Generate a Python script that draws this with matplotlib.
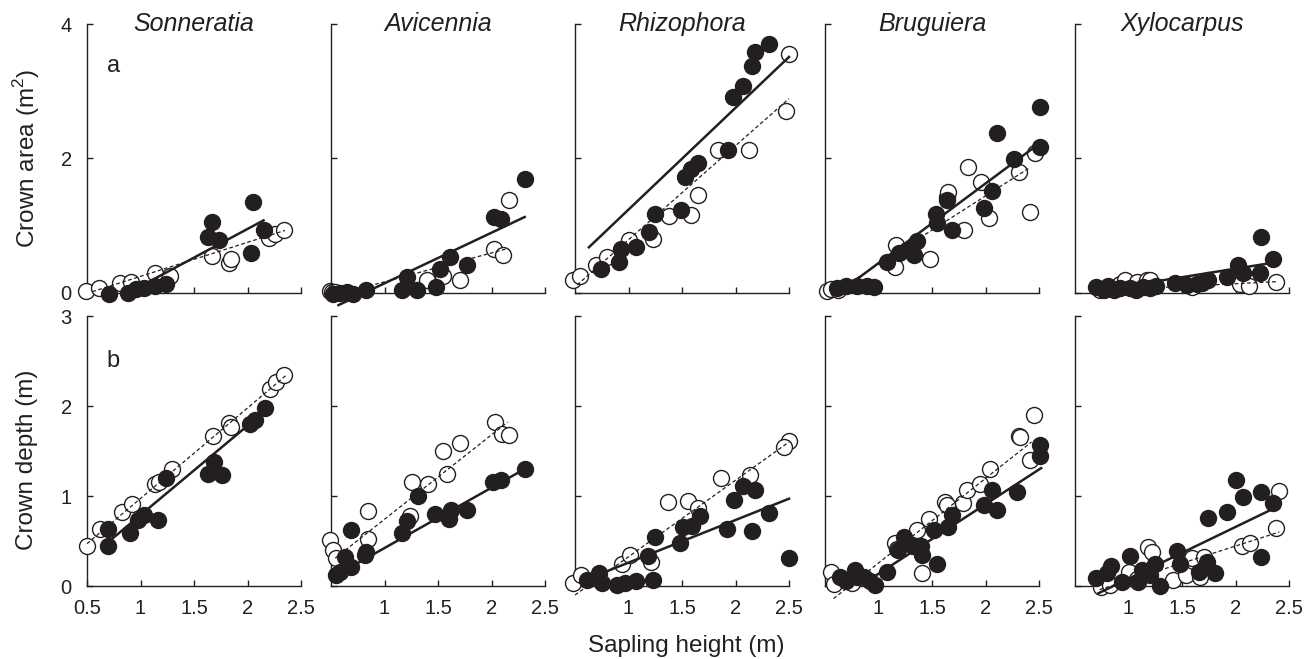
import matplotlib
matplotlib.use("Agg")
import matplotlib.pyplot as plt

plt.rcParams['font.family'] = ['Liberation Sans', 'DejaVu Sans']
plt.rcParams['mathtext.fontset'] = 'custom'
plt.rcParams['mathtext.rm'] = 'Liberation Sans'

species = ["Sonneratia", "Avicennia", "Rhizophora", "Bruguiera", "Xylocarpus"]

# ---------------- Crown area (row a) ----------------
son_area_open_x = [0.49, 0.61, 0.81, 0.91, 1.14, 1.28, 1.67, 1.83, 1.85, 2.20, 2.26, 2.34]
son_area_open_y = [0.03, 0.08, 0.15, 0.17, 0.29, 0.26, 0.55, 0.45, 0.51, 0.82, 0.88, 0.94]
son_area_fill_x = [0.71, 0.88, 0.96, 1.03, 1.14, 1.24, 1.67, 1.63, 1.73, 2.05, 2.03, 2.15]
son_area_fill_y = [-0.01, 0.0, 0.06, 0.08, 0.11, 0.14, 1.06, 0.83, 0.79, 1.36, 0.60, 0.94]
son_area_solid = ([1.00, 2.15], [0.10, 1.08])
son_area_dash = ([0.55, 2.35], [0.02, 0.93])

avi_area_open_x = [0.49, 0.51, 0.54, 1.40, 1.55, 1.71, 2.02, 2.11, 2.16]
avi_area_open_y = [0.03, 0.02, 0.01, 0.19, 0.26, 0.19, 0.66, 0.57, 1.38]
avi_area_fill_x = [0.52, 0.58, 0.65, 0.71, 0.83, 1.16, 1.21, 1.30, 1.48, 1.52, 1.61, 1.77, 2.02, 2.09, 2.31]
avi_area_fill_y = [-0.01, 0.0, 0.01, -0.01, 0.05, 0.05, 0.24, 0.04, 0.09, 0.36, 0.54, 0.42, 1.13, 1.10, 1.69]
avi_area_solid = ([0.57, 2.31], [-0.18, 1.13])
avi_area_dash = ([0.80, 2.15], [0.08, 0.66])

rhi_area_open_x = [0.48, 0.55, 0.70, 0.80, 1.00, 1.23, 1.38, 1.58, 1.65, 1.84, 2.13, 2.50, 2.47]
rhi_area_open_y = [0.20, 0.25, 0.41, 0.54, 0.79, 0.81, 1.14, 1.16, 1.45, 2.12, 2.12, 3.56, 2.71]
rhi_area_fill_x = [0.74, 0.91, 0.93, 1.07, 1.19, 1.25, 1.49, 1.53, 1.58, 1.65, 1.93, 1.98, 2.07, 2.15, 2.18, 2.31]
rhi_area_fill_y = [0.36, 0.46, 0.66, 0.69, 0.91, 1.18, 1.23, 1.73, 1.85, 1.93, 2.13, 2.91, 3.08, 3.37, 3.59, 3.71]
rhi_area_solid = ([0.63, 2.50], [0.68, 3.51])
rhi_area_dash = ([0.52, 2.50], [0.12, 2.89])

bru_area_open_x = [0.52, 0.56, 0.62, 1.15, 1.16, 1.48, 1.64, 1.65, 1.80, 1.84, 1.96, 2.03, 2.31, 2.46, 2.42]
bru_area_open_y = [0.03, 0.06, 0.05, 0.39, 0.71, 0.50, 1.43, 1.50, 0.94, 1.88, 1.65, 1.11, 1.80, 2.08, 1.21]
bru_area_fill_x = [0.61, 0.70, 0.80, 0.89, 0.96, 1.08, 1.19, 1.27, 1.33, 1.36, 1.54, 1.55, 1.69, 1.64,
                   1.99, 2.06, 2.11, 2.27, 2.51, 2.51]
bru_area_fill_y = [0.08, 0.10, 0.11, 0.10, 0.09, 0.46, 0.59, 0.64, 0.56, 0.78, 1.18, 1.04, 0.93, 1.39,
                   1.26, 1.52, 2.38, 1.99, 2.77, 2.17]
bru_area_solid = ([0.65, 2.50], [0.03, 2.22])
bru_area_dash = ([0.60, 2.40], [0.02, 1.85])

xyl_area_open_x = [0.73, 0.92, 0.97, 1.08, 1.17, 1.20, 1.59, 2.04, 2.13, 2.38]
xyl_area_open_y = [0.04, 0.14, 0.19, 0.16, 0.19, 0.20, 0.09, 0.14, 0.11, 0.16]
xyl_area_fill_x = [0.70, 0.77, 0.81, 0.86, 0.92, 1.01, 1.07, 1.14, 1.20, 1.26, 1.43, 1.55, 1.64, 1.69,
                   1.74, 1.92, 2.02, 2.07, 2.24, 2.35, 2.23]
xyl_area_fill_y = [0.09, 0.04, 0.10, 0.05, 0.08, 0.08, 0.05, 0.09, 0.07, 0.11, 0.15, 0.12, 0.14, 0.15,
                   0.19, 0.24, 0.42, 0.29, 0.83, 0.51, 0.29]
xyl_area_solid = ([0.65, 2.35], [0.02, 0.45])
xyl_area_dash = ([0.65, 2.40], [0.03, 0.17])

# ---------------- Crown depth (row b) ----------------
son_depth_open_x = [0.50, 0.62, 0.83, 0.92, 1.14, 1.17, 1.29, 1.68, 1.83, 1.85, 2.21, 2.27, 2.34]
son_depth_open_y = [0.45, 0.63, 0.82, 0.91, 1.13, 1.16, 1.30, 1.67, 1.81, 1.77, 2.19, 2.27, 2.34]
son_depth_fill_x = [0.70, 0.70, 0.90, 0.98, 1.03, 1.16, 1.24, 1.63, 1.69, 1.76, 2.02, 2.07, 2.16]
son_depth_fill_y = [0.63, 0.45, 0.59, 0.73, 0.79, 0.73, 1.20, 1.25, 1.38, 1.23, 1.80, 1.84, 1.98]
son_depth_solid = ([0.72, 2.14], [0.51, 1.92])
son_depth_dash = ([0.50, 2.36], [0.47, 2.34])

avi_depth_open_x = [0.49, 0.52, 0.55, 0.85, 0.85, 1.24, 1.26, 1.41, 1.55, 1.58, 1.71, 2.03, 2.10, 2.16]
avi_depth_open_y = [0.51, 0.40, 0.31, 0.83, 0.52, 0.78, 1.16, 1.13, 1.50, 1.25, 1.59, 1.82, 1.69, 1.68]
avi_depth_fill_x = [0.55, 0.58, 0.63, 0.69, 0.69, 0.82, 0.83, 1.16, 1.21, 1.31, 1.47, 1.60, 1.62, 1.77,
                    2.01, 2.09, 2.31]
avi_depth_fill_y = [0.12, 0.16, 0.32, 0.62, 0.21, 0.34, 0.38, 0.59, 0.72, 1.00, 0.80, 0.74, 0.85, 0.85,
                    1.16, 1.18, 1.30]
avi_depth_solid = ([0.52, 2.31], [0.10, 1.30])
avi_depth_dash = ([0.54, 2.15], [0.31, 1.82])

rhi_depth_open_x = [0.48, 0.56, 0.94, 1.01, 1.21, 1.37, 1.56, 1.65, 1.86, 2.14, 2.50, 2.45]
rhi_depth_open_y = [0.03, 0.12, 0.25, 0.35, 0.27, 0.93, 0.94, 0.87, 1.20, 1.23, 1.61, 1.54]
rhi_depth_fill_x = [0.61, 0.72, 0.75, 0.89, 0.97, 1.07, 1.23, 1.18, 1.25, 1.48, 1.51, 1.59, 1.67, 1.92,
                    1.99, 2.07, 2.18, 2.15, 2.31, 2.50]
rhi_depth_fill_y = [0.07, 0.15, 0.03, 0.01, 0.03, 0.06, 0.07, 0.33, 0.55, 0.48, 0.66, 0.67, 0.78, 0.63,
                    0.96, 1.11, 1.07, 0.61, 0.81, 0.31]
rhi_depth_solid = ([0.60, 2.50], [0.07, 0.97])
rhi_depth_dash = ([0.50, 2.50], [-0.10, 1.60])

bru_depth_open_x = [0.56, 0.58, 0.75, 1.15, 1.17, 1.36, 1.41, 1.47, 1.62, 1.64, 1.79, 1.83, 1.95, 2.04,
                    2.31, 2.45, 2.32, 2.42]
bru_depth_open_y = [0.16, 0.02, 0.03, 0.48, 0.41, 0.62, 0.15, 0.74, 0.93, 0.90, 0.92, 1.07, 1.13, 1.30,
                    1.67, 1.90, 1.66, 1.40]
bru_depth_fill_x = [0.64, 0.70, 0.78, 0.80, 0.86, 0.92, 0.97, 1.08, 1.18, 1.24, 1.32, 1.40, 1.41, 1.55,
                    1.52, 1.65, 1.69, 1.99, 2.06, 2.11, 2.29, 2.51, 2.51]
bru_depth_fill_y = [0.10, 0.06, 0.18, 0.10, 0.10, 0.06, 0.01, 0.16, 0.40, 0.54, 0.44, 0.44, 0.34, 0.25,
                    0.62, 0.66, 0.79, 0.90, 1.07, 0.84, 1.04, 1.57, 1.44]
bru_depth_solid = ([0.85, 2.52], [0.02, 1.31])
bru_depth_dash = ([0.58, 2.43], [-0.14, 1.60])

xyl_depth_open_x = [0.74, 0.83, 1.00, 1.08, 1.18, 1.22, 1.42, 1.54, 1.59, 1.67, 1.71, 2.06, 2.14, 2.38, 2.41]
xyl_depth_open_y = [-0.01, 0.01, 0.16, 0.08, 0.43, 0.38, 0.07, 0.12, 0.31, 0.10, 0.32, 0.44, 0.48, 0.64, 1.06]
xyl_depth_fill_x = [0.70, 0.80, 0.84, 0.94, 1.01, 1.09, 1.13, 1.20, 1.25, 1.29, 1.45, 1.48, 1.66, 1.73,
                    1.81, 1.74, 1.92, 2.00, 2.07, 2.24, 2.35, 2.24]
xyl_depth_fill_y = [0.09, 0.14, 0.22, 0.04, 0.33, 0.04, 0.18, 0.12, 0.25, 0.00, 0.39, 0.24, 0.16, 0.27,
                    0.15, 0.76, 0.82, 1.18, 0.99, 1.04, 0.92, 0.32]
xyl_depth_solid = ([0.72, 2.32], [-0.08, 0.84])
xyl_depth_dash = ([0.73, 2.41], [-0.04, 0.60])

area_rows = [
    (son_area_open_x, son_area_open_y, son_area_fill_x, son_area_fill_y, son_area_solid, son_area_dash),
    (avi_area_open_x, avi_area_open_y, avi_area_fill_x, avi_area_fill_y, avi_area_solid, avi_area_dash),
    (rhi_area_open_x, rhi_area_open_y, rhi_area_fill_x, rhi_area_fill_y, rhi_area_solid, rhi_area_dash),
    (bru_area_open_x, bru_area_open_y, bru_area_fill_x, bru_area_fill_y, bru_area_solid, bru_area_dash),
    (xyl_area_open_x, xyl_area_open_y, xyl_area_fill_x, xyl_area_fill_y, xyl_area_solid, xyl_area_dash),
]
depth_rows = [
    (son_depth_open_x, son_depth_open_y, son_depth_fill_x, son_depth_fill_y, son_depth_solid, son_depth_dash),
    (avi_depth_open_x, avi_depth_open_y, avi_depth_fill_x, avi_depth_fill_y, avi_depth_solid, avi_depth_dash),
    (rhi_depth_open_x, rhi_depth_open_y, rhi_depth_fill_x, rhi_depth_fill_y, rhi_depth_solid, rhi_depth_dash),
    (bru_depth_open_x, bru_depth_open_y, bru_depth_fill_x, bru_depth_fill_y, bru_depth_solid, bru_depth_dash),
    (xyl_depth_open_x, xyl_depth_open_y, xyl_depth_fill_x, xyl_depth_fill_y, xyl_depth_solid, xyl_depth_dash),
]

area_yticks = [0, 2, 4]
depth_yticks = [0, 1, 2, 3]
first_xticks = [0.5, 1, 1.5, 2, 2.5]
other_xticks = [1, 1.5, 2, 2.5]

W, H = 1309, 659
fig = plt.figure(figsize=(W / 100, H / 100), dpi=100)

lefts_px = [87, 331, 575, 825, 1075]
width_px = 214
rows_px = [(24, 293), (316, 586)]  # (top, bottom) pixel of each row

ink = '#231f20'
ms = 11.5

def fmt(v):
    return ('%g' % v)

for r, (rowdata, yticks, ymax) in enumerate([(area_rows, area_yticks, 4), (depth_rows, depth_yticks, 3)]):
    top, bot = rows_px[r]
    for c in range(5):
        ax = fig.add_axes([lefts_px[c] / W, (H - bot) / H, width_px / W, (bot - top) / H])
        ox, oy, fx, fy, solid, dash = rowdata[c]
        ax.plot(ox, oy, 'o', ms=ms, mfc='white', mec=ink, mew=1.0, clip_on=False, zorder=3)
        ax.plot(fx, fy, 'o', ms=ms, mfc=ink, mec=ink, mew=1.0, clip_on=False, zorder=4)
        ax.plot(solid[0], solid[1], '-', color=ink, lw=1.8, clip_on=False, zorder=5)
        ax.plot(dash[0], dash[1], color=ink, lw=0.9, ls=(0, (3, 2)), clip_on=False, zorder=5)
        ax.set_xlim(0.5, 2.5)
        ax.set_ylim(0, ymax)
        for s in ['top', 'right']:
            ax.spines[s].set_visible(False)
        for s in ['left', 'bottom']:
            ax.spines[s].set_linewidth(1.0)
            ax.spines[s].set_color(ink)
        ax.tick_params(direction='in', length=4, width=1.0, color=ink, labelsize=14.5,
                       labelcolor=ink)
        ax.tick_params(axis='x', pad=9)
        ax.tick_params(axis='y', pad=11)
        xt = first_xticks if c == 0 else other_xticks
        ax.set_xticks(xt)
        ax.set_yticks(yticks)
        if r == 1:
            ax.set_xticklabels([fmt(v) for v in xt])
        else:
            ax.set_xticklabels([])
        if c == 0:
            ax.set_yticklabels([fmt(v) for v in yticks])
        else:
            ax.set_yticklabels([])
        if r == 0:
            ax.text(0.5, 0.974, species[c], transform=ax.transAxes, ha='center', va='baseline',
                    fontsize=18, fontstyle='italic', color=ink)
        if c == 0:
            ax.text(0.093, 0.82 if r == 0 else 0.81, 'a' if r == 0 else 'b', transform=ax.transAxes,
                    ha='left', va='baseline', fontsize=17, color=ink)

fig.text(27 / W, 1 - 158 / H, 'Crown area (m$^2$)', rotation=90, ha='center', va='center',
         fontsize=17.5, color=ink)
fig.text(27 / W, 1 - 460 / H, 'Crown depth (m)', rotation=90, ha='center', va='center',
         fontsize=17.5, color=ink)
fig.text(686 / W, 1 - 652 / H, 'Sapling height (m)', ha='center', va='baseline',
         fontsize=17.5, color=ink)

fig.savefig('out.png', dpi=100)
